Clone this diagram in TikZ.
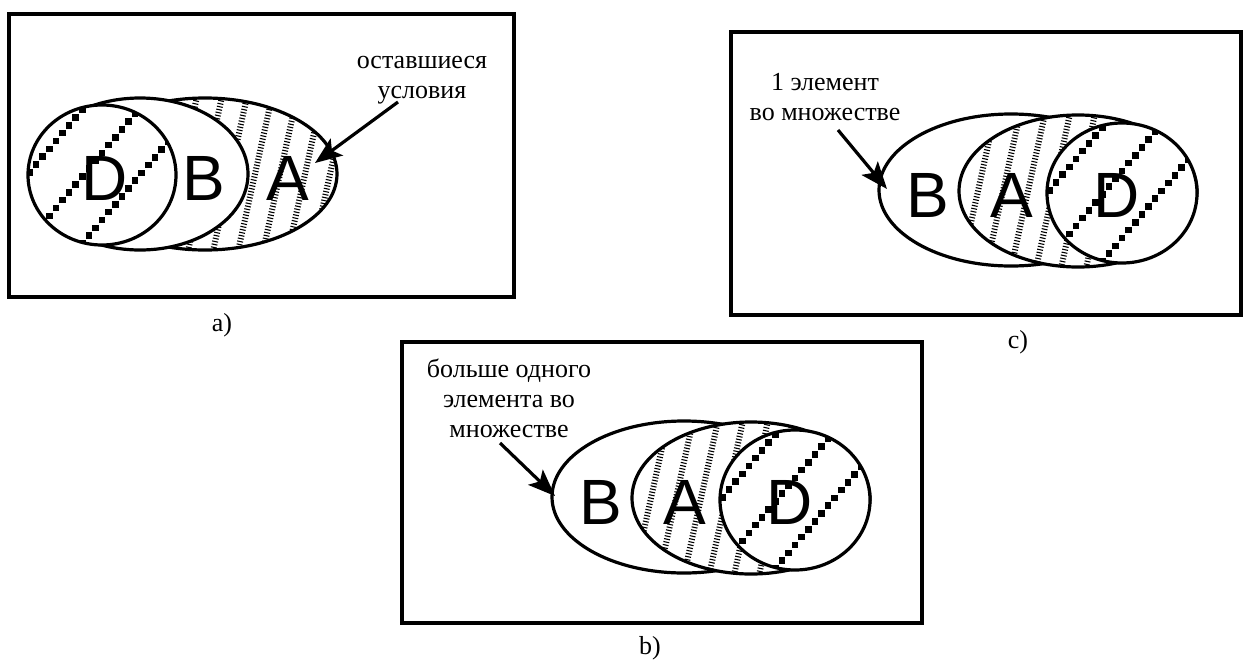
\documentclass[tikz,border=0pt]{standalone}
\usepackage{fontspec}
\setmainfont{Liberation Serif}
\newfontfamily\letterfont{Liberation Sans}
\usetikzlibrary{arrows.meta}
\newcommand\myDhatch[2]{%
  \foreach \o in {-89,-22,45}{%
    \foreach \k in {-12,...,12}{%
      \fill ({#1+\k*6.6},{#2+\o-\k*7.85}) +(-3.3,-3.3) rectangle +(3.3,3.3);}}}
\newcommand\myAhatch[2]{%
  \foreach \s in {-11,...,11}{%
    \draw[micro] ({#1+\s*25+22},{#2-100}) -- ({#1+\s*25-22},{#2+100});}}
\newcommand\myBC[1]{%
  % B ellipse
  \path[ell] (684,497) ellipse [x radius=132pt, y radius=76pt];
  % A ellipse
  \fill[white] (751,498) ellipse [x radius=119pt, y radius=76pt];
  \begin{scope}
    \clip (751,498) ellipse [x radius=119pt, y radius=76pt];
    \myAhatch{751}{498}
  \end{scope}
  \draw[ellline] (751,498) ellipse [x radius=119pt, y radius=76pt];
  % D ellipse
  \fill[white] (795,500) ellipse [x radius=75pt, y radius=70pt];
  \begin{scope}
    \clip (795,500) ellipse [x radius=75pt, y radius=70pt];
    \myDhatch{795}{500}
  \end{scope}
  \draw[ellline] (795,500) ellipse [x radius=75pt, y radius=70pt];
  \node[big] (#1B) at (601,502) {B};
  \node[big] (#1A) at (685,502) {A};
  \node[big] (#1D) at (790,502) {D};
}
\begin{document}
\begin{tikzpicture}[x=1pt,y=-1pt,
  frame/.style={line width=3.2pt},
  ellline/.style={line width=3.2pt},
  ell/.style={line width=3.2pt, fill=white, draw=black},
  micro/.style={line width=6pt, black, dash pattern=on 1.1pt off 1.9pt},
  big/.style={font=\letterfont\fontsize{64}{64}\selectfont, inner sep=0pt},
  lbl/.style={font=\fontsize{26}{30}\selectfont, align=center, inner sep=0pt},
  caplbl/.style={font=\fontsize{26}{30}\selectfont, inner sep=0pt},
  arr/.style={line width=3.2pt, -{Stealth[length=27pt,width=21pt,inset=6pt]}},
]
\useasboundingbox (0,0) rectangle (1245,659);
\fill[white] (0,0) rectangle (1245,659);

% ---------- panel a ----------
\draw[frame] (9,14) rectangle (514,297);
\fill[white] (205,174) ellipse [x radius=132pt, y radius=76pt];
\begin{scope}
  \clip (205,174) ellipse [x radius=132pt, y radius=76pt];
  \myAhatch{205}{174}
\end{scope}
\draw[ellline] (205,174) ellipse [x radius=132pt, y radius=76pt];
\path[ell] (140,174) ellipse [x radius=108pt, y radius=76pt];
\fill[white] (102,175) ellipse [x radius=74pt, y radius=70pt];
\begin{scope}
  \clip (102,175) ellipse [x radius=74pt, y radius=70pt];
  \myDhatch{102}{175}
\end{scope}
\draw[ellline] (102,175) ellipse [x radius=74pt, y radius=70pt];
\node[big] (aD) at (105,178) {D};
\node[big] (aB) at (204,178) {B};
\node[big] (aA) at (288,178) {A};
\node[lbl] (ta) at (422,80) {оставшиеся\\условия};
\coordinate (aS) at (398,102);
\coordinate (aT) at (315,163);
\draw[arr] (aS) -- (aT);
\node[caplbl] (la) at (222,325) {a)};

% ---------- panel b ----------
\draw[frame] (402,342) rectangle (922,623);
\begin{scope}
  \myBC{b}
\end{scope}
\node[lbl] (tb) at (509,398) {больше одного\\элемента во\\множестве};
\coordinate (bS) at (500,443);
\coordinate (bT) at (555,496);
\draw[arr] (bS) -- (bT);
\node[caplbl] (lb) at (650,648) {b)};

% ---------- panel c ----------
\draw[frame] (731,32) rectangle (1241,315);
\begin{scope}[shift={(327,-307)}]
  \myBC{c}
\end{scope}
\node[lbl] (tc) at (825,97) {1 элемент\\во множестве};
\coordinate (cS) at (838,130);
\coordinate (cT) at (887,189);
\draw[arr] (cS) -- (cT);
\node[caplbl] (lc) at (1018,342) {c)};
\end{tikzpicture}
\end{document}
